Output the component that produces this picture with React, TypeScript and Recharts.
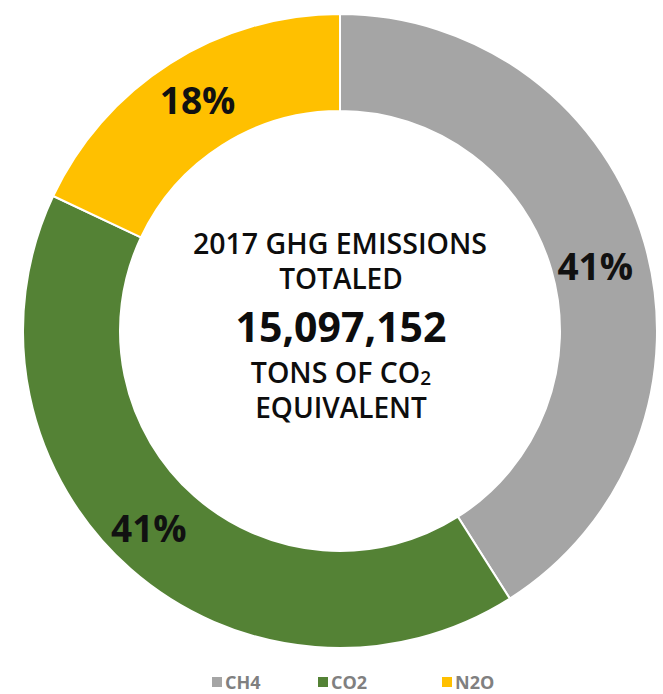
import React from "react";
import { PieChart, Pie, Cell, Legend } from "recharts";

const gases = ["CH4", "CO2", "N2O"];
const shares = [41, 41, 18];
const colors = ["#A5A5A5", "#548235", "#FFC000"];
const titleLines = ["2017 GHG EMISSIONS", "TOTALED"];
const totalText = "15,097,152";
const unitLines = ["TONS OF CO", "EQUIVALENT"];

const data = gases.map((g, i) => ({ name: g, value: shares[i] }));

const RAD = Math.PI / 180;
const FONT = "'Open Sans', sans-serif";
const CX = 335;
const CY = 326;

const renderPct = (props: any) => {
  const { cx, cy, midAngle, innerRadius, outerRadius, value } = props;
  const r = (innerRadius + outerRadius) / 2 + 1;
  const a = midAngle - 2;
  const x = cx + r * Math.cos(-a * RAD) - 6;
  const y = cy + r * Math.sin(-a * RAD) + 1;
  return (
    <text
      x={x}
      y={y}
      textAnchor="middle"
      dominantBaseline="central"
      fill="#111"
      fontFamily={FONT}
      fontWeight={700}
      fontSize={37}
    >
      {`${value}%`}
    </text>
  );
};

const CenterText = () => {
  const common = {
    textAnchor: "middle" as const,
    dominantBaseline: "central" as const,
    fill: "#0d0d0d",
    fontFamily: FONT,
    fontWeight: 600,
  };
  return (
    <svg
      width={663}
      height={694}
      style={{ position: "absolute", left: 0, top: 0, pointerEvents: "none" }}
    >
      <text x={CX + 5} y={CY - 83} fontSize={28.5} {...common}>{titleLines[0]}</text>
      <text x={CX + 6} y={CY - 48} fontSize={28} {...common}>{titleLines[1]}</text>
      <text x={CX + 6} y={CY} fontSize={41} fontFamily={FONT} fontWeight={700} textAnchor="middle" dominantBaseline="central" fill="#0d0d0d">{totalText}</text>
      <text x={CX + 6} y={CY + 46} fontSize={28.5} {...common}>
        {unitLines[0]}
        <tspan fontSize={19} dy={6}>2</tspan>
      </text>
      <text x={CX + 6} y={CY + 81} fontSize={28} {...common}>{unitLines[1]}</text>
    </svg>
  );
};

const legendLefts = [212, 318, 442];

const renderLegend = () => (
  <div
    style={{
      position: "relative",
      height: 22,
      fontFamily: FONT,
      fontWeight: 700,
      fontSize: 18,
      color: "#808080",
    }}
  >
    {gases.map((g, i) => (
      <div
        key={g}
        style={{ position: "absolute", left: legendLefts[i], top: 0, display: "flex", alignItems: "center", height: 22, lineHeight: "22px" }}
      >
        <span style={{ display: "inline-block", width: 10, height: 10, background: colors[i], marginRight: 3 }} />
        <span>{g}</span>
      </div>
    ))}
  </div>
);

export default function App() {
  return (
    <div style={{ position: "absolute", left: 0, top: 0, width: 663, height: 694, background: "#fff" }}>
      <PieChart width={663} height={694}>
        <Pie
          data={data}
          dataKey="value"
          nameKey="name"
          cx={CX}
          cy={CY}
          innerRadius={220}
          outerRadius={317}
          startAngle={90}
          endAngle={-270}
          stroke="#ffffff"
          strokeWidth={2}
          label={renderPct}
          labelLine={false}
          isAnimationActive={false}
        >
          {data.map((d, i) => (
            <Cell key={d.name} fill={colors[i]} />
          ))}
        </Pie>
        <Legend
          content={renderLegend}
          wrapperStyle={{ position: "absolute", top: 671, left: 0, width: 663 }}
        />
      </PieChart>
      <CenterText />
    </div>
  );
}
